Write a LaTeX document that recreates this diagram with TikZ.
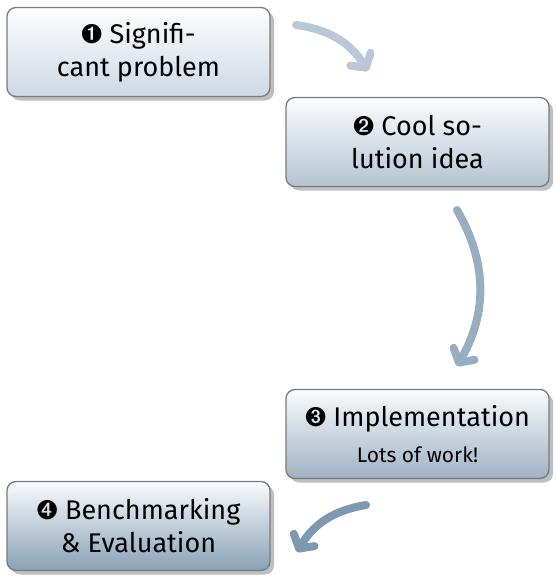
\documentclass[tikz,border=0pt]{standalone}
\usepackage{fontspec}
\setmainfont{Fira Sans}
\usepackage{pifont}
\usetikzlibrary{shadows,arrows.meta}

\definecolor{arrowA}{HTML}{B8C8D8}
\definecolor{arrowB}{HTML}{97ADC1}
\definecolor{arrowC}{HTML}{7D99B1}

\tikzset{
  stepbox/.style={draw=black!52, line width=1.3pt, rounded corners=9pt,
    minimum width=263pt, minimum height=89pt, align=center,
    font=\fontsize{27}{33}\selectfont,
    drop shadow={shadow xshift=4pt, shadow yshift=-4pt, fill=black!25, opacity=1}},
  flow/.style={line width=8pt, line cap=round,
    -{Straight Barb[round, length=10pt, width=24pt]}}
}

\begin{document}
\begin{tikzpicture}[x=1pt, y=1pt]
  \useasboundingbox (0,0) rectangle (555,-578);
  % the four steps
  \node[stepbox, top color=white!94!arrowA!40, bottom color=arrowA!70] (prob) at (138.5,-52)
    {\ding{202} Signifi-\\cant problem};
  \node[stepbox, top color=white!92!arrowB!40, bottom color=arrowB!72] (idea) at (417.5,-142)
    {\ding{203} Cool so-\\lution idea};
  \node[stepbox, top color=white!90!arrowC!40, bottom color=arrowC!75] (impl) at (417.5,-434)
    {\ding{204} Implementation\\[3pt]{\fontsize{21}{25}\selectfont Lots of work!}};
  \node[stepbox, top color=white!90!arrowC!40, bottom color=arrowC!92] (eval) at (138.5,-526)
    {\ding{205} Benchmarking\\\& Evaluation};
  % arrows between them
  \coordinate (a1s) at (296,-25);  \coordinate (a1e) at (368,-71);
  \coordinate (a2s) at (457,-210); \coordinate (a2e) at (457,-366);
  \coordinate (a3s) at (366,-505); \coordinate (a3e) at (297,-552);
  \draw[flow, arrowA] (a1s) to[bend left=25] (a1e);
  \draw[flow, arrowB] (a2s) to[bend left=30] (a2e);
  \draw[flow, arrowC] (a3s) to[bend right=25] (a3e);
\end{tikzpicture}
\end{document}
